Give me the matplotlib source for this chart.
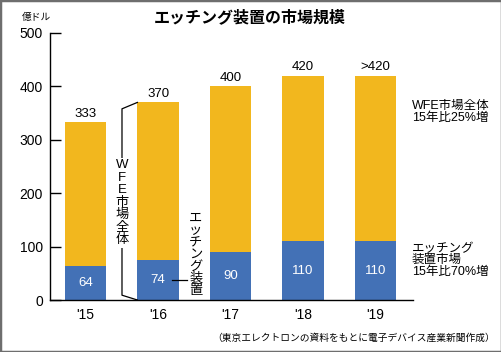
import matplotlib
matplotlib.use('Agg')
import matplotlib.pyplot as plt
from matplotlib.patches import Rectangle

plt.rcParams['font.family'] = ['Liberation Sans', 'Noto Sans CJK JP', 'DejaVu Sans']

# データ（億ドル）
years = ["'15", "'16", "'17", "'18", "'19"]
etching = [64, 74, 90, 110, 110]
wfe_total = [333, 370, 400, 420, 420]
total_labels = ['333', '370', '400', '420', '>420']

yellow = '#F2B71E'
blue = '#4371B6'
W, H = 502, 352

fig = plt.figure(figsize=(W / 100, H / 100), dpi=100)
fig.add_artist(Rectangle((0, 0), 1, 1, transform=fig.transFigure,
                         fill=False, edgecolor='#6e6e6e', linewidth=2.5))

ax = fig.add_axes([50 / W, 52 / H, 363 / W, 267 / H])
x = list(range(len(years)))
bw = 0.57
rest = [t - e for t, e in zip(wfe_total, etching)]
ax.bar(x, etching, width=bw, color=blue)
ax.bar(x, rest, bottom=etching, width=bw, color=yellow)

for i in x:
    ax.text(i, etching[i] / 2, str(etching[i]), ha='center', va='center',
            color='white', fontsize=9.5)
    ax.text(i, wfe_total[i] + 5, total_labels[i], ha='center', va='bottom',
            fontsize=9.5)

ax.set_xlim(-0.49, 4.517)
ax.set_ylim(0, 500)
ax.set_yticks([0, 100, 200, 300, 400, 500])
ax.tick_params(axis='y', direction='in', length=8, width=1, labelsize=10, pad=5)
ax.set_xticks(x)
ax.set_xticklabels(years)
ax.tick_params(axis='x', length=0, labelsize=10, pad=6)
for s in ['top', 'right']:
    ax.spines[s].set_visible(False)
ax.spines['left'].set_linewidth(1)
ax.spines['bottom'].set_linewidth(1)

# WFE市場全体のかっこ
bx = 0.503
left16 = 1 - bw / 2
ax.plot([left16, bx, bx, left16], [wfe_total[1], wfe_total[1] - 12, 9, 0],
        color='black', linewidth=0.9, clip_on=False)
ax.text(bx, 182, '\n'.join('WFE市場全体'), ha='center', va='center',
        fontsize=9.5, linespacing=1.05,
        bbox=dict(facecolor='white', edgecolor='none', pad=1))

# エッチング装置の引き出し線
ax.plot([1.19, 1.40], [etching[1] / 2, etching[1] / 2], color='black', linewidth=0.9)
ax.text(1.52, 84, '\n'.join('エッチング装置'), ha='center', va='center',
        fontsize=9.5, linespacing=1.0)

# 右側の注記
ax.text(4.50, 374, 'WFE市場全体\n15年比25%増', ha='left', va='top',
        fontsize=9, linespacing=0.95, clip_on=False)
ax.text(4.50, 107, 'エッチング\n装置市場\n15年比70%増', ha='left', va='top',
        fontsize=9, linespacing=0.95, clip_on=False)

fig.text(250 / W, 1 - 17 / H, 'エッチング装置の市場規模', ha='center', va='center',
         fontsize=11.5, fontweight='bold')
fig.text(22 / W, 1 - 17 / H, '億ドル', ha='left', va='center', fontsize=7)
fig.text(495 / W, 1 - 338 / H, '（東京エレクトロンの資料をもとに電子デバイス産業新聞作成）',
         ha='right', va='center', fontsize=7)

fig.savefig('out.png', dpi=100)
